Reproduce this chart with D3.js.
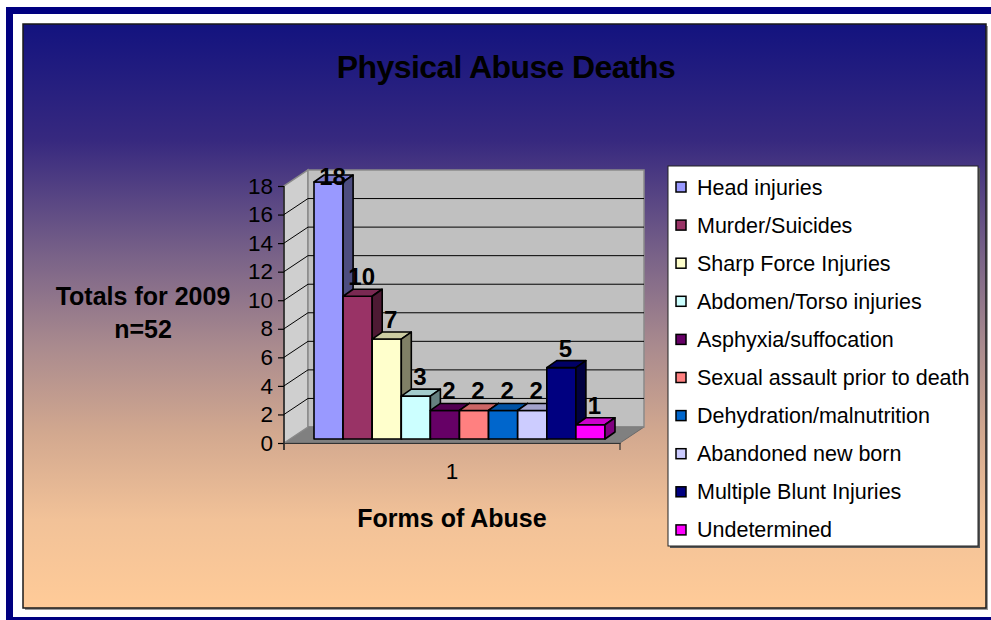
<!DOCTYPE html>
<html>
<head>
<meta charset="utf-8">
<script src="https://cdn.jsdelivr.net/npm/d3@7"></script>
<style>
  html, body { margin: 0; padding: 0; background: #ffffff; }
  svg { display: block; font-family: "Liberation Sans", Arial, sans-serif; }
</style>
</head>
<body>
<svg id="chart" width="991" height="620"></svg>
<script>
// ---------- data ----------
const title = "Physical Abuse Deaths";
const category = ["1"];
const seriesNames = [
  "Head injuries", "Murder/Suicides", "Sharp Force Injuries", "Abdomen/Torso injuries",
  "Asphyxia/suffocation", "Sexual assault prior to death", "Dehydration/malnutrition",
  "Abandoned new born", "Multiple Blunt Injuries", "Undetermined"
];
const seriesValues = [18, 10, 7, 3, 2, 2, 2, 2, 5, 1];
const seriesColors = ["#9999FF", "#993366", "#FFFFCC", "#CCFFFF", "#660066",
                      "#FF8080", "#0066CC", "#CCCCFF", "#000080", "#FF00FF"];
const yTicks = [0, 2, 4, 6, 8, 10, 12, 14, 16, 18];
const yTitleLines = ["Totals for 2009", "n=52"];
const xTitle = "Forms of Abuse";

// ---------- layout ----------
const FONT = "'Liberation Sans', Arial, sans-serif";
const svg = d3.select("#chart");
const W = 991, H = 620;
const plot = { left: 284, right: 620, bottom: 443, top: 186 };
const depth = { dx: 24, dy: -16 };      // wall depth
const barOff = { dx: 6, dy: -4 };       // bar front plane offset
const barDepth = { dx: 10, dy: -7 };    // bar thickness

const y = d3.scaleLinear().domain([0, 18]).range([plot.bottom, plot.top]);
const x = d3.scaleBand().domain(category).range([plot.left, plot.right]);
const xs = d3.scaleBand().domain(seriesNames)
  .range([x(category[0]) + 24, x(category[0]) + x.bandwidth() - 21]).padding(0);

// ---------- frame ----------
svg.append("rect").attr("x", 6).attr("y", 7).attr("width", W - 6).attr("height", H - 7).attr("fill", "#000080");
svg.append("rect").attr("x", 13).attr("y", 14).attr("width", W - 13).attr("height", H - 17).attr("fill", "#ffffff");

const defs = svg.append("defs");
const grad = defs.append("linearGradient").attr("id", "bg").attr("x1", 0).attr("y1", 0).attr("x2", 0).attr("y2", 1);
[[0, "#13137f"], [0.2, "#37297f"], [0.4, "#7a6388"], [0.55, "#a98a8e"],
 [0.7, "#d2a88f"], [0.85, "#f2c298"], [1, "#ffcb98"]].forEach(([o, c]) =>
  grad.append("stop").attr("offset", o).attr("stop-color", c));

svg.append("rect").attr("x", 25).attr("y", 26).attr("width", 963).attr("height", 584).attr("fill", "#9a9a9a");
svg.append("rect").attr("x", 23).attr("y", 24).attr("width", 963).attr("height", 584)
  .attr("fill", "url(#bg)").attr("stroke", "#1a1a1a").attr("stroke-width", 1.5);

// ---------- title ----------
svg.append("text").attr("x", 506).attr("y", 78).attr("text-anchor", "middle")
  .attr("font-family", FONT).attr("font-size", 32).attr("font-weight", "bold").attr("fill", "#000")
  .attr("letter-spacing", -0.6).text(title);

// ---------- walls & floor ----------
const P = (px, py) => px + "," + py;
const X0 = plot.left, X1 = plot.right, Y0 = plot.bottom, YT = plot.top;
svg.append("polygon")
  .attr("points", [P(X0, Y0), P(X1, Y0), P(X1 + depth.dx, Y0 + depth.dy), P(X0 + depth.dx, Y0 + depth.dy)].join(" "))
  .attr("fill", "#808080").attr("stroke", "#6a6a6a").attr("stroke-width", 1);
svg.append("polygon")
  .attr("points", [P(X0, Y0), P(X0 + depth.dx, Y0 + depth.dy), P(X0 + depth.dx, YT + depth.dy), P(X0, YT)].join(" "))
  .attr("fill", "#cfcfcf").attr("stroke", "#8a8a8a").attr("stroke-width", 1.5);
svg.append("rect").attr("x", X0 + depth.dx).attr("y", YT + depth.dy)
  .attr("width", X1 - X0).attr("height", Y0 - YT)
  .attr("fill", "#c0c0c0").attr("stroke", "#8a8a8a").attr("stroke-width", 1.5);
const grid = svg.append("g").attr("stroke", "#000").attr("stroke-width", 1);
yTicks.filter(t => t > 0 && t < 18).forEach(t => {
  grid.append("line").attr("x1", X0 + depth.dx).attr("x2", X1 + depth.dx)
    .attr("y1", y(t) + depth.dy).attr("y2", y(t) + depth.dy);
  grid.append("line").attr("x1", X0).attr("x2", X0 + depth.dx)
    .attr("y1", y(t)).attr("y2", y(t) + depth.dy);
});
svg.append("line").attr("x1", X0 + depth.dx).attr("x2", X1 + depth.dx)
  .attr("y1", Y0 + depth.dy).attr("y2", Y0 + depth.dy).attr("stroke", "#7a7a7a").attr("stroke-width", 1);

// ---------- axes ----------
const yAxis = d3.axisLeft(y).tickValues(yTicks).tickSize(6).tickPadding(5);
const gy = svg.append("g").attr("transform", `translate(${X0},0)`).call(yAxis);
gy.select(".domain").remove();
gy.selectAll(".tick line").attr("stroke", "#000").attr("stroke-width", 1.2);
gy.selectAll(".tick text").attr("font-size", 22.5).attr("fill", "#000").attr("font-family", FONT);
svg.append("line").attr("x1", X0).attr("x2", X0).attr("y1", YT).attr("y2", Y0 + 7)
  .attr("stroke", "#000").attr("stroke-width", 1.2);

const xAxis = d3.axisBottom(x).tickSize(0).tickPadding(20);
const gx = svg.append("g").attr("transform", `translate(0,${Y0})`).call(xAxis);
gx.select(".domain").attr("stroke", "#333").attr("stroke-width", 1.2);
gx.selectAll(".tick text").attr("font-size", 22.5).attr("fill", "#000").attr("font-family", FONT);
[X0, X1].forEach(px => svg.append("line").attr("x1", px).attr("x2", px)
  .attr("y1", Y0).attr("y2", Y0 + 7).attr("stroke", "#333").attr("stroke-width", 1.2));

// ---------- bars ----------
const shade = (c, k) => { const r = d3.rgb(c); return d3.rgb(r.r * k, r.g * k, r.b * k).toString(); };
const bars = svg.append("g").attr("stroke", "#000").attr("stroke-width", 1.6).attr("stroke-linejoin", "round");
seriesNames.forEach((name, i) => {
  const v = seriesValues[i];
  const c = seriesColors[i];
  const xl = xs(name) + barOff.dx, xr = xl + xs.bandwidth();
  const yb = y(0) + barOff.dy, yt = y(v) + barOff.dy;
  const g = bars.append("g");
  g.append("polygon").attr("points", [P(xl, yt), P(xr, yt), P(xr, yb), P(xl, yb)].join(" ")).attr("fill", c);
  g.append("polygon").attr("points", [P(xl, yt), P(xl + barDepth.dx, yt + barDepth.dy),
    P(xr + barDepth.dx, yt + barDepth.dy), P(xr, yt)].join(" ")).attr("fill", shade(c, 0.8));
  g.append("polygon").attr("points", [P(xr, yt), P(xr + barDepth.dx, yt + barDepth.dy),
    P(xr + barDepth.dx, yb + barDepth.dy), P(xr, yb)].join(" ")).attr("fill", shade(c, 0.5));
});

// ---------- data labels ----------
const labelTop = y(18) + depth.dy + 15;
svg.append("g").selectAll("text").data(seriesValues).join("text")
  .attr("x", (d, i) => xs(seriesNames[i]) + barOff.dx + xs.bandwidth() / 2 + 4)
  .attr("y", d => Math.max(y(d) + barOff.dy - 11, labelTop))
  .attr("text-anchor", "middle").attr("font-family", FONT).attr("font-size", 24)
  .attr("font-weight", "bold").attr("fill", "#000")
  .text(d => d);

// ---------- axis titles ----------
const yt = svg.append("text").attr("text-anchor", "middle").attr("font-family", FONT).attr("font-size", 25)
  .attr("font-weight", "bold").attr("fill", "#000");
yTitleLines.forEach((t, i) => yt.append("tspan").attr("x", 143).attr("y", 305 + i * 33).text(t));

svg.append("text").attr("x", (X0 + X1) / 2).attr("y", 527).attr("text-anchor", "middle")
  .attr("font-family", FONT).attr("font-size", 25).attr("font-weight", "bold").attr("fill", "#000").text(xTitle);

// ---------- legend ----------
const lg = svg.append("g").attr("transform", "translate(668,166)");
lg.append("rect").attr("x", 2).attr("y", 2).attr("width", 310).attr("height", 380).attr("fill", "#555");
lg.append("rect").attr("width", 310).attr("height", 380).attr("fill", "#fff").attr("stroke", "#222").attr("stroke-width", 1);
const items = lg.selectAll("g.item").data(seriesNames).join("g").attr("class", "item")
  .attr("transform", (d, i) => `translate(0,${21 + i * 38.1})`);
items.append("rect").attr("x", 8).attr("y", -5).attr("width", 10).attr("height", 10)
  .attr("fill", (d, i) => seriesColors[i]).attr("stroke", "#000").attr("stroke-width", 1.5);
items.append("text").attr("x", 29).attr("y", 7.5).attr("font-family", FONT).attr("font-size", 21.5)
  .attr("fill", "#000").text(d => d);
</script>
</body>
</html>
